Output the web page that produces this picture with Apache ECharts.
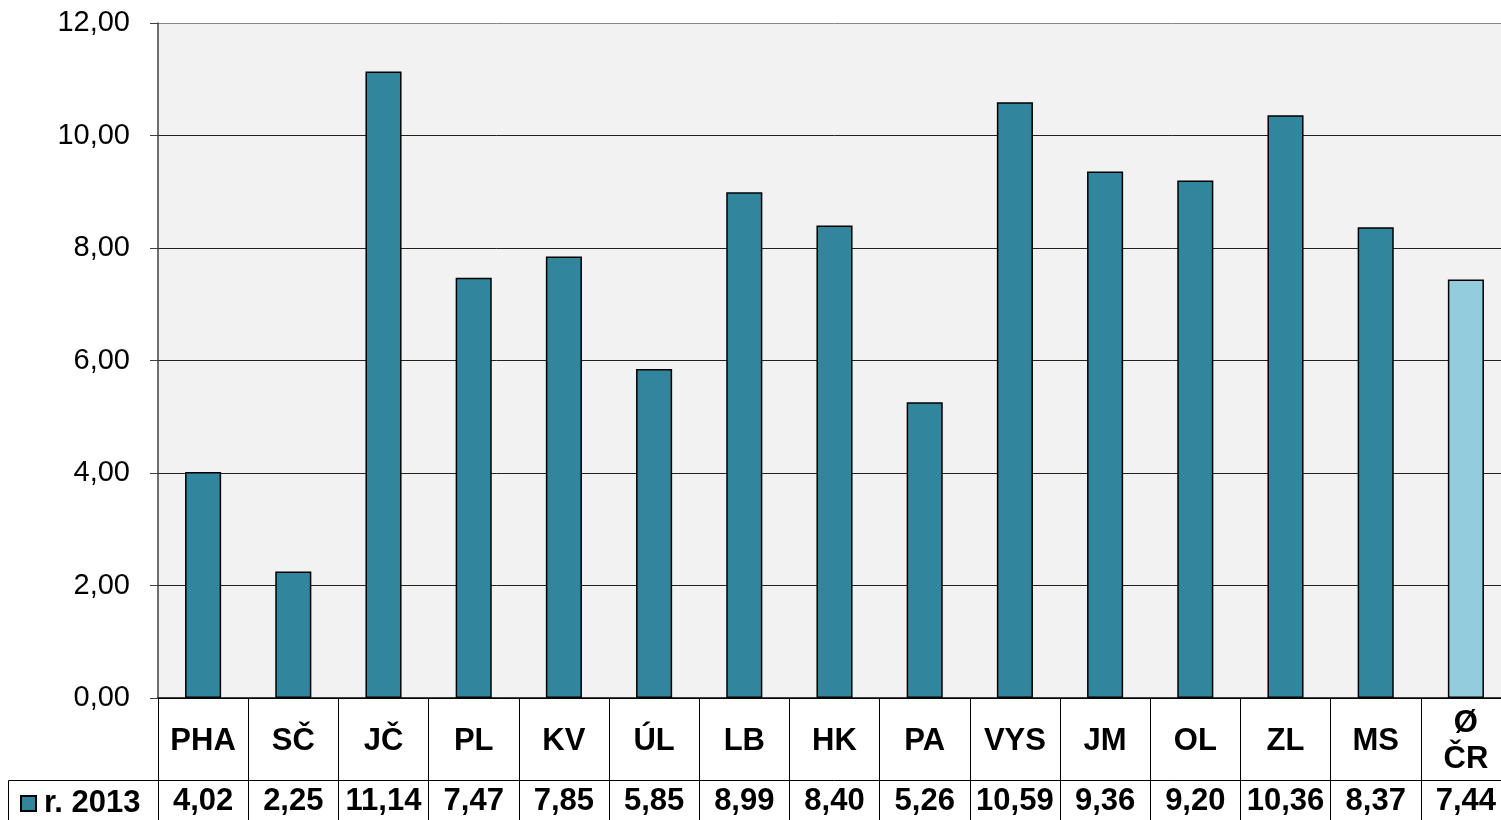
<!DOCTYPE html>
<html><head><meta charset="utf-8">
<script src="https://cdn.jsdelivr.net/npm/echarts@6/dist/echarts.min.js"></script>
<style>html,body{margin:0;padding:0;background:#fff;overflow:hidden}#c{width:1511px;height:820px}</style>
</head><body><div id="c"></div>
<script>
const categories = ['PHA','SČ','JČ','PL','KV','ÚL','LB','HK','PA','VYS','JM','OL','ZL','MS','Ø\nČR'];
const values2013 = [4.02,2.25,11.14,7.47,7.85,5.85,8.99,8.40,5.26,10.59,9.36,9.20,10.36,8.37,7.44];
const seriesName = 'r. 2013';
const yTicks = {min:0, max:12, interval:2};

const fmt = v => v.toFixed(2).replace('.', ',');
const FONT = '"Liberation Sans", Arial, sans-serif';
const teal = '#31859C', light = '#93CDDD';

const chart = echarts.init(document.getElementById('c'), null, {renderer:'canvas'});
chart.setOption({
  animation:false,
  textStyle:{fontFamily:FONT},
  legend:{
    left:15, top:783, itemWidth:15, itemHeight:15, icon:'rect',
    textStyle:{fontSize:31, fontWeight:'bold', color:'#000', fontFamily:FONT, padding:[0,0,0,3]},
    data:[seriesName]
  },
  graphic:[{type:'polyline', shape:{points:[[8.5,820],[8.5,780.5],[158,780.5]]}, style:{stroke:'#000', lineWidth:1, fill:null}, silent:true}],
  grid:[
    {left:158, top:23, right:0, height:675, show:true, backgroundColor:'#F2F2F2', borderWidth:0},
    {left:158, top:698, right:0, height:122, show:false},
    {left:158, top:780, right:0, height:40, show:false}
  ],
  xAxis:[
    {gridIndex:0, type:'category', data:categories,
     axisLine:{show:true, lineStyle:{color:'#000', width:1.5}}, axisTick:{show:false},
     axisLabel:{show:true, interval:0, margin:43, verticalAlign:'middle', fontSize:31, fontWeight:'bold', color:'#000', fontFamily:FONT, lineHeight:36},
     splitLine:{show:false}},
    {gridIndex:1, type:'category', data:categories,
     axisLine:{show:false}, axisTick:{show:false}, axisLabel:{show:false},
     splitLine:{show:true, interval:0, lineStyle:{color:'#000', width:1}}},
    {gridIndex:2, type:'category', data:values2013.map(fmt), position:'top',
     axisLine:{show:true, onZero:false, lineStyle:{color:'#000', width:1}}, axisTick:{show:false},
     axisLabel:{show:true, inside:true, interval:0, margin:6, verticalAlign:'top', fontSize:31, fontWeight:'bold', color:'#000', fontFamily:FONT},
     splitLine:{show:false}}
  ],
  yAxis:[
    {gridIndex:0, type:'value', min:yTicks.min, max:yTicks.max, interval:yTicks.interval,
     axisLine:{show:true, lineStyle:{color:'#404040', width:1.5}},
     axisTick:{show:true, length:8, lineStyle:{color:'#404040'}},
     axisLabel:{formatter:fmt, fontSize:29, color:'#000', margin:28, fontFamily:FONT},
     splitLine:{show:true, lineStyle:{color:['#222','#222','#222','#222','#222','#222','#888'], width:1}}},
    {gridIndex:1, type:'value', show:false},
    {gridIndex:2, type:'value', show:false}
  ],
  series:[{
    name:seriesName, type:'bar', xAxisIndex:0, yAxisIndex:0, barWidth:'40%',
    data:values2013.map((v,i)=>({value:v, itemStyle:{color: i===values2013.length-1 ? light : teal}})),
    itemStyle:{color:teal, borderColor:'#000', borderWidth:1.5}
  }]
});
</script></body></html>
